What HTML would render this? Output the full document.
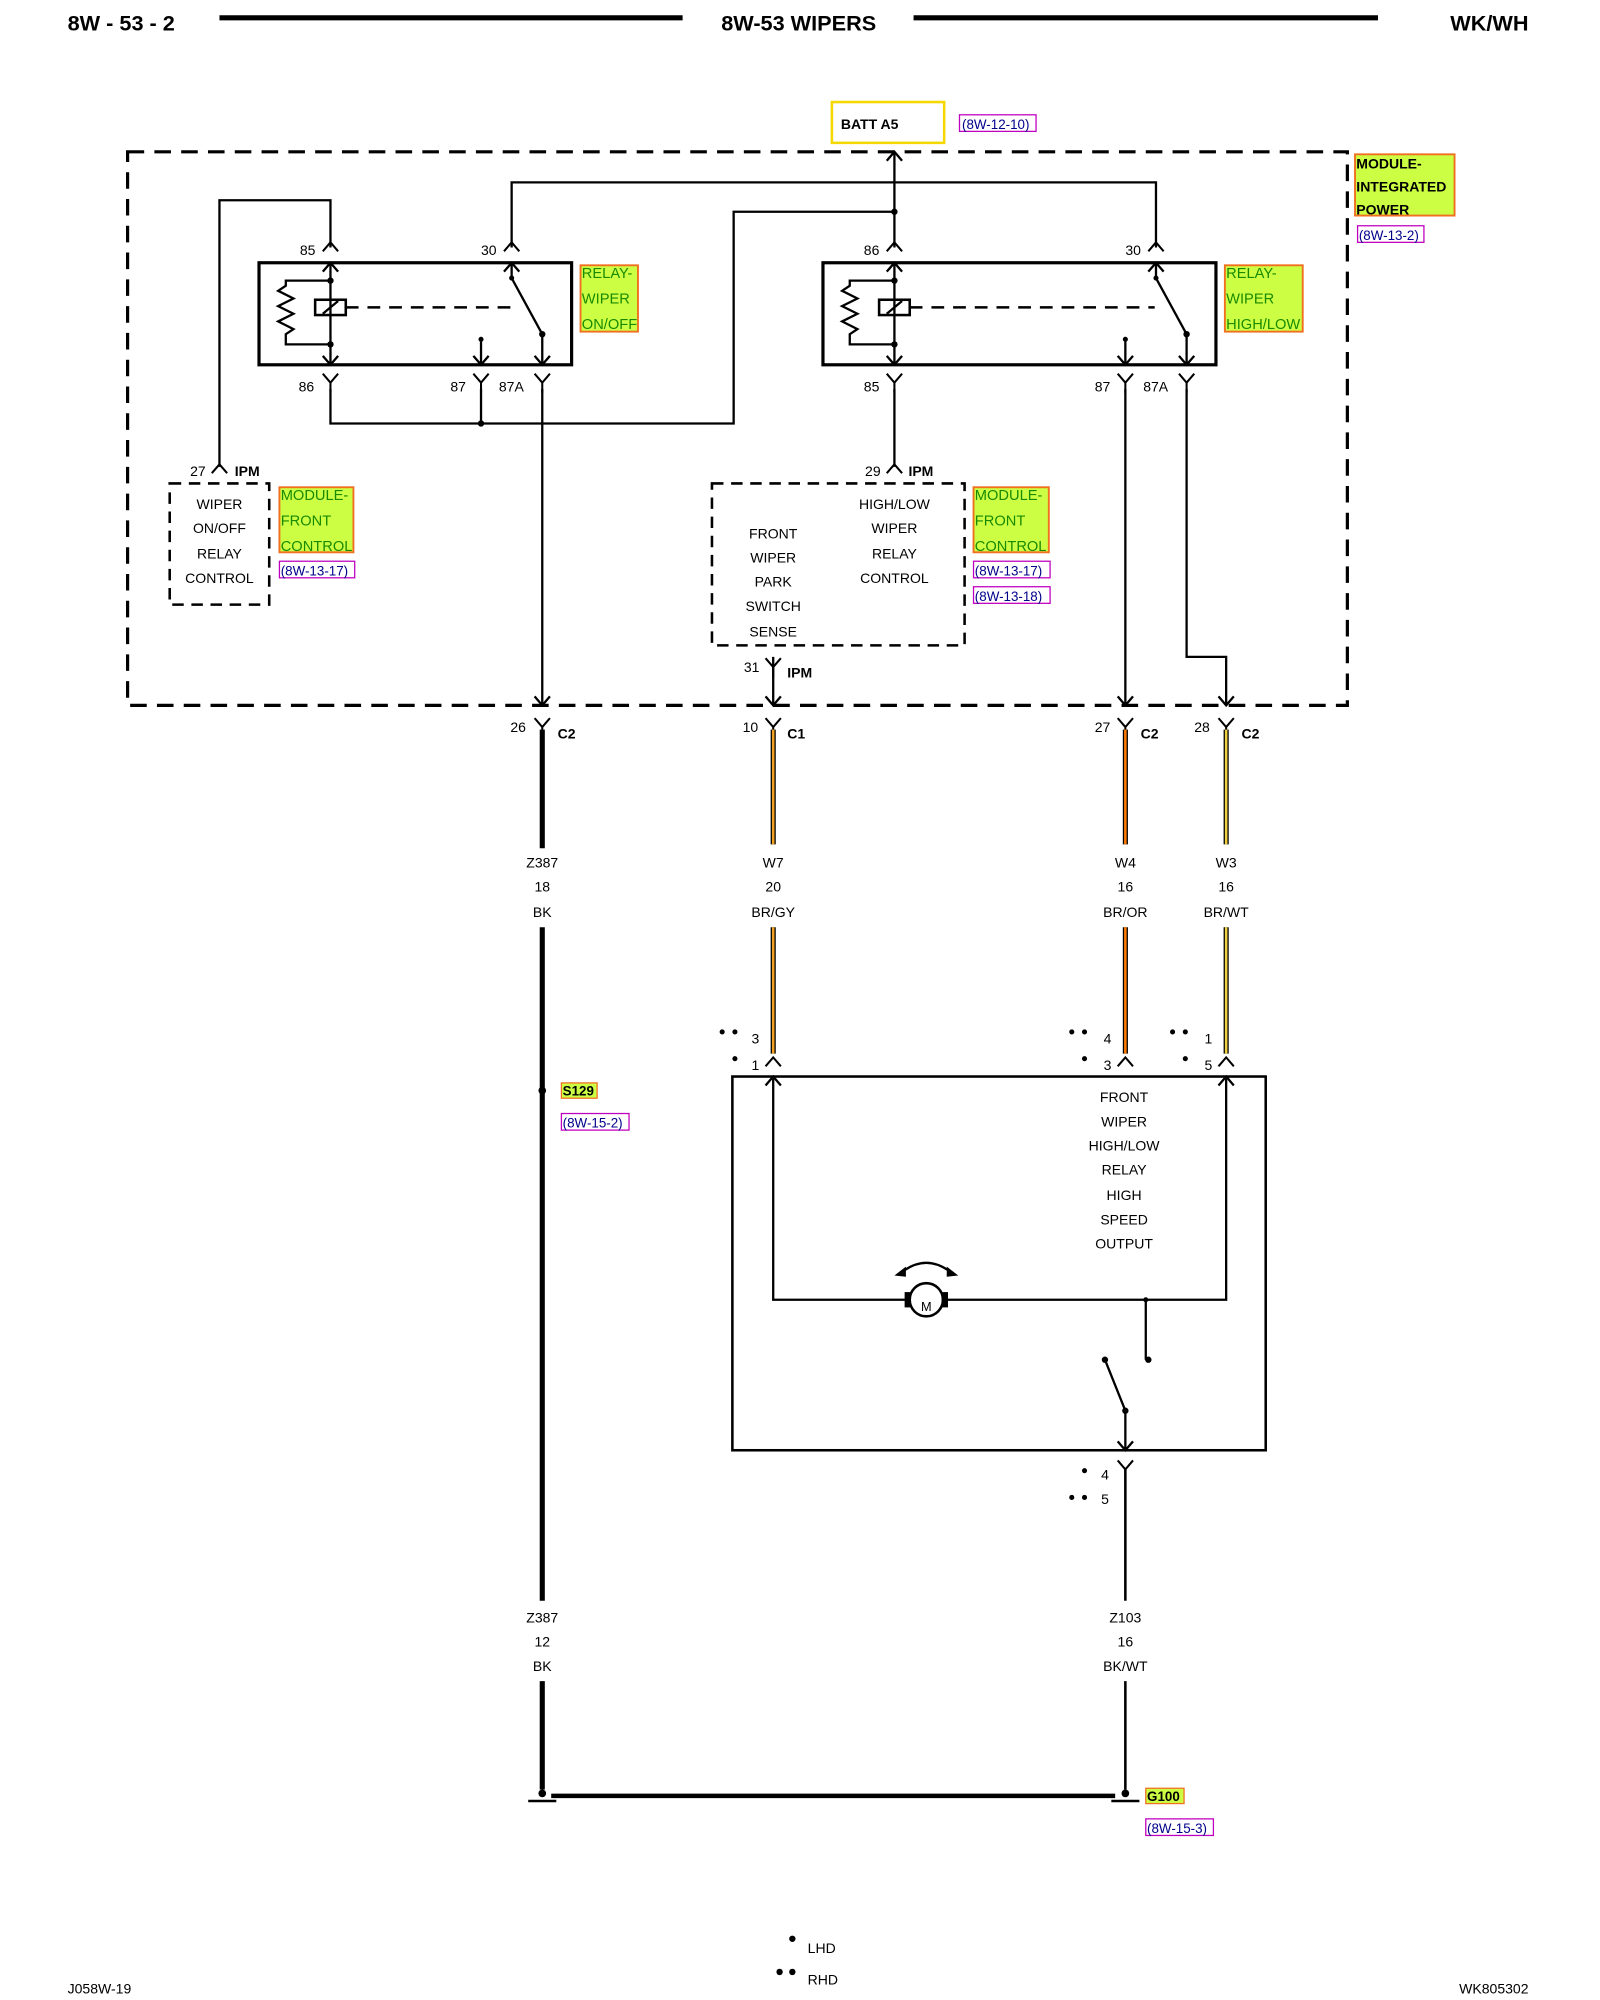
<!DOCTYPE html>
<html><head><meta charset="utf-8"><style>
html,body{margin:0;padding:0;background:#fff;}
svg{display:block;}
text{font-family:"Liberation Sans",sans-serif;fill:#000;}
.b{font-weight:bold;}
.s{font-size:11px;}
.lb{font-size:11.5px;fill:#1a8a00;}
.rf{font-size:10.5px;fill:#00008b;}
</style></head><body>
<svg width="1600" height="2000" viewBox="0 0 1254 1568" preserveAspectRatio="none" xmlns="http://www.w3.org/2000/svg">
<defs>
<g id="Y"><path d="M-6,-7 L0,0 L6,-7 M0,0 L0,8" fill="none" stroke="#000" stroke-width="1.6"/></g>
<g id="U"><path d="M-6,7 L0,0 L6,7" fill="none" stroke="#000" stroke-width="1.6"/></g>
</defs>
<text x="53" y="24" class="b" font-size="17">8W - 53 - 2</text>
<line x1="172" y1="14" x2="535" y2="14" stroke="#000" stroke-width="4"/>
<text x="626" y="24" class="b" font-size="17" text-anchor="middle">8W-53 WIPERS</text>
<line x1="716" y1="14" x2="1080" y2="14" stroke="#000" stroke-width="4"/>
<text x="1198" y="24" class="b" font-size="17" text-anchor="end">WK/WH</text>

<rect x="652" y="80" width="88" height="32" fill="#fff" stroke="#f5d800" stroke-width="2"/>
<text x="659" y="101" class="b s">BATT A5</text>
<rect x="752" y="90" width="60" height="13" fill="none" stroke="#c000c0" stroke-width="1"/>
<text x="754" y="101" class="rf">(8W-12-10)</text>

<rect x="100" y="119" width="956" height="434" fill="none" stroke="#000" stroke-width="2.5" stroke-dasharray="13,8"/>
<rect x="1062" y="121" width="78" height="48" fill="#ccff44" stroke="#f07020" stroke-width="1.5"/>
<text x="1063" y="132" class="b s">MODULE-</text>
<text x="1063" y="150" class="b s">INTEGRATED</text>
<text x="1063" y="168" class="b s">POWER</text>
<rect x="1064" y="177" width="52" height="13" fill="none" stroke="#c000c0"/>
<text x="1065" y="188" class="rf">(8W-13-2)</text>

<g fill="none" stroke="#000" stroke-width="1.8">
<path d="M701,119 L701,194"/>
<path d="M695,126 L701,119 L707,126"/>
<path d="M401,194 L401,143 L906,143 L906,194"/>
<path d="M701,166 L575,166 L575,332 L259,332 L259,305"/>
<path d="M377,305 L377,332"/>
<path d="M172,366 L172,157 L259,157 L259,194"/>
<rect x="203" y="206" width="245" height="80" stroke-width="2.5"/>
<rect x="645" y="206" width="308" height="80" stroke-width="2.5"/>
<path d="M259,206 L259,286 M253,213 L259,206 L265,213 M253,279 L259,286 L265,279"/>
<path d="M259,220 L224,220 L224,224 L218,228 L230,234 L218,240 L230,246 L218,252 L230,258 L224,262 L224,270 L259,270"/>
<rect x="247" y="235" width="24" height="12" stroke-width="2"/>
<path d="M253,246 L265,236"/>
<path d="M271,241 L400,241" stroke-dasharray="10,7" stroke-width="2"/>
<path d="M401,206 L401,218 L425,262 L425,286 M395,213 L401,206 L407,213 M419,279 L425,286 L431,279"/>
<path d="M377,266 L377,286 M371,279 L377,286 L383,279"/>
<path d="M701,206 L701,286 M695,213 L701,206 L707,213 M695,279 L701,286 L707,279"/>
<path d="M701,220 L666,220 L666,224 L660,228 L672,234 L660,240 L672,246 L660,252 L672,258 L666,262 L666,270 L701,270"/>
<rect x="689" y="235" width="24" height="12" stroke-width="2"/>
<path d="M695,246 L707,236"/>
<path d="M713,241 L905,241" stroke-dasharray="10,7" stroke-width="2"/>
<path d="M906,206 L906,218 L930,262 L930,286 M900,213 L906,206 L912,213 M924,279 L930,286 L936,279"/>
<path d="M882,266 L882,286 M876,279 L882,286 L888,279"/>
<path d="M425,305 L425,553 M419,546 L425,553 L431,546"/>
<path d="M701,305 L701,366"/>
<path d="M882,305 L882,553 M876,546 L882,553 L888,546"/>
<path d="M930,305 L930,515 L961,515 L961,553 M955,546 L961,553 L967,546"/>
<path d="M606,515 L606,553 M600,546 L606,553 L612,546"/>
</g>
<g fill="#000">
<circle cx="701" cy="166" r="2.5"/><circle cx="377" cy="332" r="2.5"/>
<circle cx="259" cy="220" r="2.5"/><circle cx="259" cy="270" r="2.5"/>
<circle cx="701" cy="220" r="2.5"/><circle cx="701" cy="270" r="2.5"/>
<circle cx="401" cy="218" r="2"/><circle cx="425" cy="262" r="2.5"/><circle cx="377" cy="266" r="2"/>
<circle cx="906" cy="218" r="2"/><circle cx="930" cy="262" r="2.5"/><circle cx="882" cy="266" r="2"/>
</g>
<use href="#U" x="259" y="190"/><use href="#U" x="401" y="190"/><use href="#U" x="701" y="190"/><use href="#U" x="906" y="190"/>
<use href="#Y" x="259" y="300"/><use href="#Y" x="377" y="300"/><use href="#Y" x="425" y="300"/>
<use href="#Y" x="701" y="300"/><use href="#Y" x="882" y="300"/><use href="#Y" x="930" y="300"/>
<g class="s">
<text x="235" y="200">85</text><text x="377" y="200">30</text><text x="677" y="200">86</text><text x="882" y="200">30</text>
<text x="234" y="307">86</text><text x="353" y="307">87</text><text x="391" y="307">87A</text>
<text x="677" y="307">85</text><text x="858" y="307">87</text><text x="896" y="307">87A</text>
</g>
<rect x="455" y="208" width="45" height="52" fill="#ccff44" stroke="#f07020" stroke-width="1.5"/>
<text x="456" y="218" class="lb">RELAY-</text><text x="456" y="238" class="lb">WIPER</text><text x="456" y="258" class="lb">ON/OFF</text>
<rect x="960" y="208" width="61" height="52" fill="#ccff44" stroke="#f07020" stroke-width="1.5"/>
<text x="961" y="218" class="lb">RELAY-</text><text x="961" y="238" class="lb">WIPER</text><text x="961" y="258" class="lb">HIGH/LOW</text>

<use href="#U" x="172" y="364"/><text x="149" y="373" class="s">27</text><text x="184" y="373" class="b s">IPM</text>
<use href="#U" x="701" y="364"/><text x="678" y="373" class="s">29</text><text x="712" y="373" class="b s">IPM</text>
<rect x="133" y="379" width="78" height="95" fill="none" stroke="#000" stroke-width="2" stroke-dasharray="9,6"/>
<g class="s" text-anchor="middle">
<text x="172" y="399">WIPER</text><text x="172" y="418">ON/OFF</text><text x="172" y="438">RELAY</text><text x="172" y="457">CONTROL</text>
</g>
<rect x="219" y="382" width="58" height="51" fill="#ccff44" stroke="#f07020" stroke-width="1.5"/>
<text x="220" y="392" class="lb">MODULE-</text><text x="220" y="412" class="lb">FRONT</text><text x="220" y="432" class="lb">CONTROL</text>
<rect x="219" y="440" width="59" height="13" fill="none" stroke="#c000c0"/><text x="220" y="451" class="rf">(8W-13-17)</text>

<rect x="558" y="379" width="198" height="127" fill="none" stroke="#000" stroke-width="2" stroke-dasharray="9,6"/>
<g class="s" text-anchor="middle">
<text x="606" y="422">FRONT</text><text x="606" y="441">WIPER</text><text x="606" y="460">PARK</text><text x="606" y="479">SWITCH</text><text x="606" y="499">SENSE</text>
<text x="701" y="399">HIGH/LOW</text><text x="701" y="418">WIPER</text><text x="701" y="438">RELAY</text><text x="701" y="457">CONTROL</text>
</g>
<rect x="763" y="382" width="59" height="51" fill="#ccff44" stroke="#f07020" stroke-width="1.5"/>
<text x="764" y="392" class="lb">MODULE-</text><text x="764" y="412" class="lb">FRONT</text><text x="764" y="432" class="lb">CONTROL</text>
<rect x="763" y="440" width="60" height="13" fill="none" stroke="#c000c0"/><text x="764" y="451" class="rf">(8W-13-17)</text>
<rect x="763" y="460" width="60" height="13" fill="none" stroke="#c000c0"/><text x="764" y="471" class="rf">(8W-13-18)</text>
<use href="#Y" x="606" y="523"/><text x="583" y="527" class="s">31</text><text x="617" y="531" class="b s">IPM</text>

<use href="#Y" x="425" y="570"/><text x="400" y="574" class="s">26</text><text x="437" y="579" class="b s">C2</text>
<use href="#Y" x="606" y="570"/><text x="582" y="574" class="s">10</text><text x="617" y="579" class="b s">C1</text>
<use href="#Y" x="882" y="570"/><text x="858" y="574" class="s">27</text><text x="894" y="579" class="b s">C2</text>
<use href="#Y" x="961" y="570"/><text x="936" y="574" class="s">28</text><text x="973" y="579" class="b s">C2</text>

<g stroke-width="4" fill="none">
<path d="M425,572 L425,665 M425,727 L425,1255 M425,1318 L425,1403" stroke="#000"/>
<path d="M606,572 L606,662 M606,727 L606,826" stroke="#000"/>
<path d="M882,572 L882,662 M882,727 L882,826" stroke="#000"/>
<path d="M961,572 L961,662 M961,727 L961,826" stroke="#000"/>
</g>
<g stroke-width="2" fill="none">
<path d="M606,572 L606,662 M606,727 L606,826" stroke="#f0a020"/>
<path d="M882,572 L882,662 M882,727 L882,826" stroke="#ff7a00"/>
<path d="M961,572 L961,662 M961,727 L961,826" stroke="#f0d040"/>
</g>
<g class="s" text-anchor="middle">
<text x="425" y="680">Z387</text><text x="425" y="699">18</text><text x="425" y="719">BK</text>
<text x="606" y="680">W7</text><text x="606" y="699">20</text><text x="606" y="719">BR/GY</text>
<text x="882" y="680">W4</text><text x="882" y="699">16</text><text x="882" y="719">BR/OR</text>
<text x="961" y="680">W3</text><text x="961" y="699">16</text><text x="961" y="719">BR/WT</text>
<text x="425" y="1272">Z387</text><text x="425" y="1291">12</text><text x="425" y="1310">BK</text>
<text x="882" y="1272">Z103</text><text x="882" y="1291">16</text><text x="882" y="1310">BK/WT</text>
</g>

<use href="#U" x="606" y="829"/><use href="#U" x="882" y="829"/><use href="#U" x="961" y="829"/>
<g class="s">
<text x="589" y="818">3</text><text x="589" y="839">1</text>
<text x="865" y="818">4</text><text x="865" y="839">3</text>
<text x="944" y="818">1</text><text x="944" y="839">5</text>
<text x="863" y="1160">4</text><text x="863" y="1179">5</text>
</g>
<g fill="#000">
<circle cx="566" cy="809" r="2"/><circle cx="576" cy="809" r="2"/><circle cx="576" cy="830" r="2"/>
<circle cx="840" cy="809" r="2"/><circle cx="850" cy="809" r="2"/><circle cx="850" cy="830" r="2"/>
<circle cx="919" cy="809" r="2"/><circle cx="929" cy="809" r="2"/><circle cx="929" cy="830" r="2"/>
<circle cx="850" cy="1153" r="2"/><circle cx="840" cy="1174" r="2"/><circle cx="850" cy="1174" r="2"/>
</g>
<rect x="574" y="844" width="418" height="293" fill="none" stroke="#000" stroke-width="2"/>
<g class="s" text-anchor="middle">
<text x="881" y="864">FRONT</text><text x="881" y="883">WIPER</text><text x="881" y="902">HIGH/LOW</text><text x="881" y="921">RELAY</text><text x="881" y="941">HIGH</text><text x="881" y="960">SPEED</text><text x="881" y="979">OUTPUT</text>
</g>
<g fill="none" stroke="#000" stroke-width="1.8">
<path d="M606,844 L606,1019 L710,1019 M742,1019 L961,1019 L961,844"/>
<path d="M600,851 L606,844 L612,851 M955,851 L961,844 L967,851"/>
<path d="M898,1019 L898,1066"/>
<path d="M866,1066 L882,1106 L882,1137 M876,1130 L882,1137 L888,1130"/>
<path d="M706,998 Q726,982 746,998"/>
<circle cx="726" cy="1019" r="13" stroke-width="2"/>
</g>
<path d="M701,1000 L710,993 L710,1001 Z M751,1000 L742,993 L742,1001 Z" fill="#000"/>
<rect x="709" y="1013" width="5" height="12" fill="#000"/><rect x="738" y="1013" width="5" height="12" fill="#000"/>
<text x="726" y="1028" font-size="10" text-anchor="middle">M</text>
<g fill="#000"><circle cx="898" cy="1019" r="2"/><circle cx="900" cy="1066" r="2.5"/><circle cx="866" cy="1066" r="2.5"/><circle cx="882" cy="1106" r="2.5"/></g>
<use href="#Y" x="882" y="1152"/>
<path d="M882,1152 L882,1255 M882,1318 L882,1403" stroke="#000" stroke-width="2"/>

<circle cx="425" cy="855" r="3" fill="#000"/>
<rect x="440" y="849" width="28" height="12" fill="#ccff44" stroke="#f07020"/>
<text x="441" y="859" class="b" font-size="10.5" style="fill:#000">S129</text>
<rect x="440" y="873" width="53" height="13" fill="none" stroke="#c000c0"/><text x="441" y="884" class="rf">(8W-15-2)</text>

<path d="M432,1408 L874,1408" stroke="#000" stroke-width="3.5"/>
<path d="M414,1412 L436,1412 M871,1412 L893,1412" stroke="#000" stroke-width="2"/>
<circle cx="425" cy="1406" r="3" fill="#000"/><circle cx="882" cy="1406" r="3" fill="#000"/>
<rect x="898" y="1402" width="30" height="12" fill="#ccff44" stroke="#f07020"/>
<text x="899" y="1412" class="b" font-size="10.5">G100</text>
<rect x="898" y="1426" width="53" height="13" fill="none" stroke="#c000c0"/><text x="899" y="1437" class="rf">(8W-15-3)</text>

<circle cx="621" cy="1520" r="2.5" fill="#000"/><text x="633" y="1531" class="s">LHD</text>
<circle cx="611" cy="1546" r="2.5" fill="#000"/><circle cx="621" cy="1546" r="2.5" fill="#000"/><text x="633" y="1556" class="s">RHD</text>
<text x="53" y="1563" class="s">J058W-19</text>
<text x="1198" y="1563" class="s" text-anchor="end">WK805302</text>
</svg>
</body></html>
